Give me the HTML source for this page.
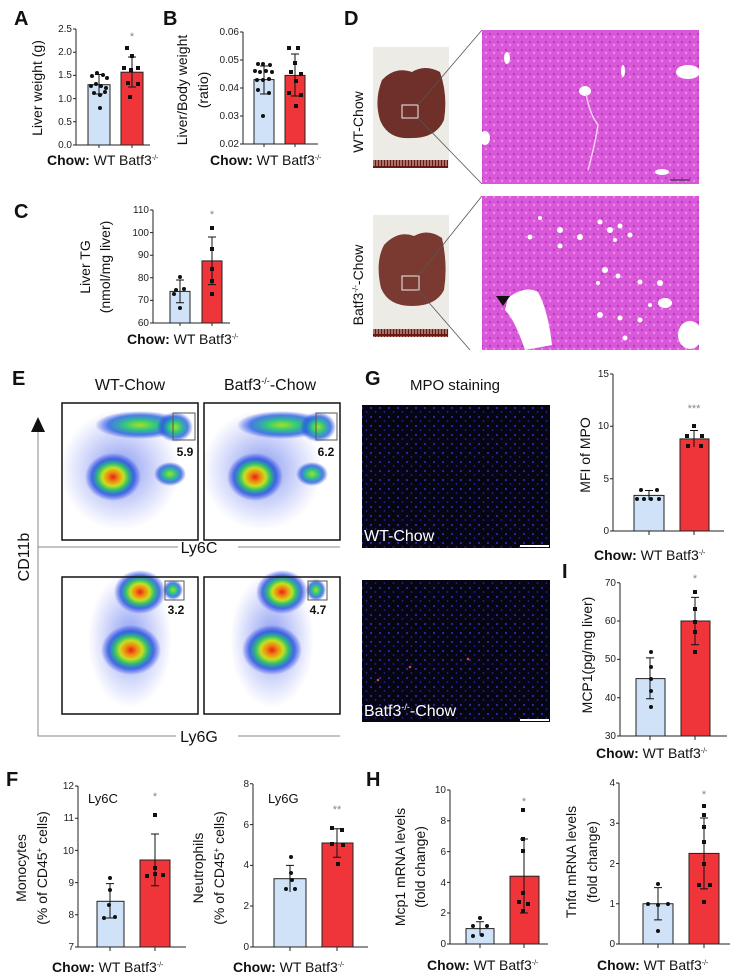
<!DOCTYPE html>
<html><head><meta charset="utf-8"><style>
html,body{margin:0;padding:0;background:#fff;}
svg{display:block;font-family:"Liberation Sans",Arial,sans-serif;}
.t{font-size:10px;fill:#222}
.ax{stroke:#222;stroke-width:1;fill:none}
.wt{fill:#cfe2f7;stroke:#222;stroke-width:1}
.ko{fill:#f0353a;stroke:#222;stroke-width:1}
.er{stroke:#111;stroke-width:1;fill:none}
.lab{font-size:20px;font-weight:bold;fill:#111}
.yl{font-size:14px;fill:#111}
.xl{font-size:14px;fill:#111}
.st{font-size:11px;fill:#888}
</style></head><body>
<svg width="739" height="977" viewBox="0 0 739 977" xmlns="http://www.w3.org/2000/svg">
<defs>
<radialGradient id="heat">
<stop offset="0" stop-color="#e8201a"/>
<stop offset="0.2" stop-color="#f08a10"/>
<stop offset="0.38" stop-color="#c8e020"/>
<stop offset="0.55" stop-color="#30c070"/>
<stop offset="0.75" stop-color="#2050e0" stop-opacity="0.8"/>
<stop offset="1" stop-color="#2030e0" stop-opacity="0"/>
</radialGradient>
<radialGradient id="green">
<stop offset="0" stop-color="#a8e020"/>
<stop offset="0.35" stop-color="#30c880"/>
<stop offset="0.7" stop-color="#2060e0" stop-opacity="0.8"/>
<stop offset="1" stop-color="#2030e0" stop-opacity="0"/>
</radialGradient>
<radialGradient id="haze">
<stop offset="0" stop-color="#4060e8" stop-opacity="0.65"/>
<stop offset="1" stop-color="#6070f0" stop-opacity="0"/>
</radialGradient>
<pattern id="nuc" width="9" height="9" patternUnits="userSpaceOnUse">
<rect width="9" height="9" fill="#050514"/>
<circle cx="2" cy="3" r="1.1" fill="#2a2aa8"/>
<circle cx="6.5" cy="7" r="0.9" fill="#24249a"/>
</pattern>
<pattern id="he" width="8" height="8" patternUnits="userSpaceOnUse">
<rect width="8" height="8" fill="#d957d8"/>
<circle cx="2" cy="2" r="1" fill="#9a3ab8"/>
<circle cx="6" cy="5" r="1.2" fill="#e98ae6"/>
</pattern>
<pattern id="ruler" width="3" height="8" patternUnits="userSpaceOnUse">
<rect width="3" height="8" fill="#6a1a14"/>
<rect x="1.5" width="1" height="6" fill="#e8c8c0"/>
</pattern>
</defs>

<!-- ===== Panel A ===== -->
<text x="14" y="25" class="lab">A</text>
<text transform="translate(42,88) rotate(-90)" class="yl" text-anchor="middle">Liver weight (g)</text>
<g class="t" text-anchor="end">
<text x="72" y="148">0.0</text><text x="72" y="125">0.5</text><text x="72" y="102">1.0</text><text x="72" y="78">1.5</text><text x="72" y="55">2.0</text><text x="72" y="32">2.5</text></g>
<path class="ax" d="M76,29V145H150M73,145H76M73,121.8H76M73,98.6H76M73,75.4H76M73,52.2H76M73,29H76M99,145v3M132,145v3"/>
<rect class="wt" x="88" y="84.7" width="22" height="60.3"/>
<rect class="ko" x="121" y="72.2" width="22" height="72.8"/>
<path class="er" d="M99,94V74.5M95,94h8M95,74.5h8M132,87V57M128,87h8M128,57h8"/>
<g fill="#111"><circle cx="92" cy="76" r="2"/><circle cx="97" cy="73" r="2"/><circle cx="103" cy="75" r="2"/><circle cx="107" cy="78" r="2"/><circle cx="91" cy="86" r="2"/><circle cx="96" cy="84" r="2"/><circle cx="101" cy="86" r="2"/><circle cx="106" cy="88" r="2"/><circle cx="94" cy="93" r="2"/><circle cx="100" cy="95" r="2"/><circle cx="105" cy="92" r="2"/><circle cx="100" cy="108" r="2"/>
<rect x="125" y="46" width="4" height="4"/><rect x="130" y="54" width="4" height="4"/><rect x="122" y="66" width="4" height="4"/><rect x="129" y="68" width="4" height="4"/><rect x="136" y="66" width="4" height="4"/><rect x="126" y="81" width="4" height="4"/><rect x="136" y="82" width="4" height="4"/><rect x="128" y="95" width="4" height="4"/></g>
<text x="132" y="40" class="st" text-anchor="middle">*</text>
<text x="47" y="165" class="xl"><tspan font-weight="bold">Chow:</tspan> WT  Batf3<tspan dy="-5" font-size="7">-/-</tspan></text>

<!-- ===== Panel B ===== -->
<text x="163" y="25" class="lab">B</text>
<text transform="translate(187,90) rotate(-90)" class="yl" text-anchor="middle">Liver/Body weight</text>
<text transform="translate(208,90) rotate(-90)" class="yl" text-anchor="middle">(ratio)</text>
<g class="t" text-anchor="end">
<text x="239" y="147">0.02</text><text x="239" y="119">0.03</text><text x="239" y="91">0.04</text><text x="239" y="63">0.05</text><text x="239" y="35">0.06</text></g>
<path class="ax" d="M243,32V144H318M240,144H243M240,116H243M240,88H243M240,60H243M240,32H243M264,144v3M295,144v3"/>
<rect class="wt" x="254" y="79.6" width="20" height="64.4"/>
<rect class="ko" x="285" y="75.4" width="20" height="68.6"/>
<path class="er" d="M264,94V66M260,94h8M260,66h8M295,96V54M291,96h8M291,54h8"/>
<g fill="#111"><circle cx="258" cy="64" r="2"/><circle cx="263" cy="64" r="2"/><circle cx="270" cy="65" r="2"/><circle cx="255" cy="71" r="2"/><circle cx="260" cy="72" r="2"/><circle cx="266" cy="71" r="2"/><circle cx="272" cy="72" r="2"/><circle cx="257" cy="80" r="2"/><circle cx="263" cy="80" r="2"/><circle cx="269" cy="79" r="2"/><circle cx="258" cy="90" r="2"/><circle cx="269" cy="93" r="2"/><circle cx="263" cy="116" r="2"/>
<rect x="287" y="46" width="4" height="4"/><rect x="296" y="46" width="4" height="4"/><rect x="293" y="61" width="4" height="4"/><rect x="289" y="70" width="4" height="4"/><rect x="299" y="72" width="4" height="4"/><rect x="294" y="79" width="4" height="4"/><rect x="287" y="91" width="4" height="4"/><rect x="299" y="93" width="4" height="4"/><rect x="294" y="104" width="4" height="4"/></g>
<text x="210" y="165" class="xl"><tspan font-weight="bold">Chow:</tspan> WT  Batf3<tspan dy="-5" font-size="7">-/-</tspan></text>

<!-- ===== Panel C ===== -->
<text x="14" y="218" class="lab">C</text>
<text transform="translate(90,267) rotate(-90)" class="yl" text-anchor="middle">Liver TG</text>
<text transform="translate(110,267) rotate(-90)" class="yl" text-anchor="middle">(nmol/mg liver)</text>
<g class="t" text-anchor="end">
<text x="149" y="326">60</text><text x="149" y="303">70</text><text x="149" y="281">80</text><text x="149" y="258">90</text><text x="149" y="236">100</text><text x="149" y="213">110</text></g>
<path class="ax" d="M153,210V323H230M150,323H153M150,300.4H153M150,277.8H153M150,255.2H153M150,232.6H153M150,210H153M180,323v3M212,323v3"/>
<rect class="wt" x="170" y="291.4" width="20" height="31.6"/>
<rect class="ko" x="202" y="260.9" width="20" height="62.1"/>
<path class="er" d="M180,302.7V280M176,302.7h8M176,280h8M212,284.6V237M208,284.6h8M208,237h8"/>
<g fill="#111"><circle cx="180" cy="277" r="2"/><circle cx="176" cy="290" r="2"/><circle cx="184" cy="289" r="2"/><circle cx="174" cy="294" r="2"/><circle cx="180" cy="308" r="2"/>
<rect x="210" y="226" width="4" height="4"/><rect x="210" y="247" width="4" height="4"/><rect x="210" y="267" width="4" height="4"/><rect x="210" y="279" width="4" height="4"/><rect x="210" y="292" width="4" height="4"/></g>
<text x="212" y="218" class="st" text-anchor="middle">*</text>
<text x="127" y="344" class="xl"><tspan font-weight="bold">Chow:</tspan> WT  Batf3<tspan dy="-5" font-size="7">-/-</tspan></text>

<!-- ===== Panel D ===== -->
<text x="344" y="25" class="lab">D</text>
<text transform="translate(363,122) rotate(-90)" font-size="14" text-anchor="middle" fill="#111">WT-Chow</text>
<text transform="translate(363,285) rotate(-90)" font-size="14" text-anchor="middle" fill="#111">Batf3<tspan dy="-5" font-size="8">-/-</tspan><tspan dy="5">-Chow</tspan></text>
<rect x="373" y="47" width="76" height="121" fill="#ecebe6"/>
<path d="M382,80 Q395,66 412,72 Q425,64 440,72 Q448,95 444,120 Q436,138 412,138 Q388,140 380,120 Q374,100 382,80Z" fill="#6e3028"/>
<rect x="402" y="105" width="16" height="13" fill="none" stroke="#eee" stroke-width="1"/>
<rect x="373" y="160" width="75" height="8" fill="url(#ruler)"/>
<path d="M418,105 L482,30 M418,118 L482,184" stroke="#555" stroke-width="0.8"/>
<rect x="482" y="30" width="217" height="154" fill="url(#he)"/>
<g fill="#fff"><ellipse cx="507" cy="58" rx="3" ry="6"/><ellipse cx="585" cy="91" rx="6" ry="5"/><ellipse cx="688" cy="72" rx="12" ry="7"/><ellipse cx="485" cy="138" rx="5" ry="7"/><ellipse cx="662" cy="172" rx="7" ry="3"/><ellipse cx="623" cy="71" rx="2" ry="6"/></g>
<path d="M586,94 Q590,115 598,125 Q595,145 588,170" stroke="#f5d0f0" stroke-width="1.5" fill="none"/>
<path d="M670,180h20" stroke="#222" stroke-width="1"/>
<rect x="373" y="215" width="76" height="122" fill="#ecebe6"/>
<path d="M384,245 Q398,230 414,236 Q428,228 442,238 Q448,265 444,290 Q436,306 412,306 Q388,306 381,288 Q375,262 384,245Z" fill="#7a3a32"/>
<rect x="402" y="276" width="17" height="14" fill="none" stroke="#eee" stroke-width="1"/>
<rect x="373" y="329" width="75" height="8" fill="url(#ruler)"/>
<path d="M418,276 L482,196 M418,290 L470,350" stroke="#555" stroke-width="0.8"/>
<rect x="482" y="196" width="217" height="154" fill="url(#he)"/>
<g fill="#fff"><path d="M508,298 Q525,285 538,292 Q548,310 552,345 L525,350 Q515,320 505,310Z"/><ellipse cx="690" cy="335" rx="12" ry="14"/><ellipse cx="665" cy="303" rx="7" ry="5"/>
<circle cx="560" cy="230" r="3"/><circle cx="580" cy="237" r="3"/><circle cx="560" cy="246" r="2.5"/><circle cx="600" cy="222" r="2.5"/><circle cx="610" cy="230" r="3"/><circle cx="620" cy="226" r="2.5"/><circle cx="615" cy="240" r="2"/><circle cx="630" cy="235" r="2.5"/><circle cx="605" cy="270" r="3"/><circle cx="618" cy="276" r="2.5"/><circle cx="598" cy="283" r="2"/><circle cx="640" cy="282" r="2.5"/><circle cx="660" cy="283" r="3"/><circle cx="600" cy="315" r="3"/><circle cx="620" cy="318" r="2.5"/><circle cx="640" cy="320" r="2.5"/><circle cx="650" cy="305" r="2"/><circle cx="540" cy="218" r="2"/><circle cx="530" cy="237" r="2.5"/><circle cx="625" cy="338" r="2.5"/></g>
<path d="M496,296 L510,296 L503,306Z" fill="#111"/>

<!-- ===== Panel E ===== -->
<text x="12" y="385" class="lab">E</text>
<text x="130" y="390" font-size="16" text-anchor="middle" fill="#111">WT-Chow</text>
<text x="270" y="390" font-size="16" text-anchor="middle" fill="#111">Batf3<tspan dy="-6" font-size="9">-/-</tspan><tspan dy="6">-Chow</tspan></text>
<path d="M38,428V736H198M38,547H198" stroke="#888" stroke-width="1" fill="none"/>
<path d="M238,547H340M238,736H340" stroke="#888" stroke-width="1"/>
<path d="M31,432L38,417L45,432Z" fill="#111"/>
<text transform="translate(29,557) rotate(-90)" font-size="16" text-anchor="middle" fill="#111">CD11b</text>
<rect x="178" y="537" width="42" height="20" fill="#fff"/>
<text x="199" y="553" font-size="16" text-anchor="middle" fill="#111">Ly6C</text>
<rect x="176" y="726" width="46" height="20" fill="#fff"/>
<text x="199" y="742" font-size="16" text-anchor="middle" fill="#111">Ly6G</text>
<g>
<rect x="62" y="403" width="136" height="137" fill="#fff"/>
<ellipse cx="120" cy="470" rx="60" ry="60" fill="url(#haze)"/>
<ellipse cx="140" cy="425" rx="45" ry="14" fill="url(#green)"/>
<ellipse cx="175" cy="427" rx="18" ry="15" fill="url(#green)"/>
<ellipse cx="113" cy="477" rx="28" ry="24" fill="url(#heat)"/>
<ellipse cx="170" cy="474" rx="16" ry="12" fill="url(#green)"/>
<rect x="62" y="403" width="136" height="137" fill="none" stroke="#111" stroke-width="1.5"/>
<rect x="173" y="413" width="22" height="27" fill="none" stroke="#555" stroke-width="1"/>
<text x="185" y="456" font-size="12" font-weight="bold" text-anchor="middle" fill="#111">5.9</text>
</g>
<g>
<rect x="204" y="403" width="136" height="137" fill="#fff"/>
<ellipse cx="262" cy="470" rx="60" ry="60" fill="url(#haze)"/>
<ellipse cx="282" cy="425" rx="45" ry="14" fill="url(#green)"/>
<ellipse cx="318" cy="427" rx="18" ry="15" fill="url(#green)"/>
<ellipse cx="255" cy="477" rx="28" ry="24" fill="url(#heat)"/>
<ellipse cx="312" cy="474" rx="16" ry="12" fill="url(#green)"/>
<rect x="204" y="403" width="136" height="137" fill="none" stroke="#111" stroke-width="1.5"/>
<rect x="316" y="413" width="21" height="27" fill="none" stroke="#555" stroke-width="1"/>
<text x="326" y="456" font-size="12" font-weight="bold" text-anchor="middle" fill="#111">6.2</text>
</g>
<g>
<rect x="62" y="577" width="136" height="137" fill="#fff"/>
<ellipse cx="130" cy="640" rx="42" ry="68" fill="url(#haze)"/>
<ellipse cx="140" cy="592" rx="26" ry="22" fill="url(#heat)"/>
<ellipse cx="131" cy="650" rx="30" ry="25" fill="url(#heat)"/>
<ellipse cx="173" cy="590" rx="10" ry="10" fill="url(#green)"/>
<rect x="62" y="577" width="136" height="137" fill="none" stroke="#111" stroke-width="1.5"/>
<rect x="165" y="581" width="19" height="19" fill="none" stroke="#555" stroke-width="1"/>
<text x="176" y="614" font-size="12" font-weight="bold" text-anchor="middle" fill="#111">3.2</text>
</g>
<g>
<rect x="204" y="577" width="136" height="137" fill="#fff"/>
<ellipse cx="272" cy="640" rx="42" ry="68" fill="url(#haze)"/>
<ellipse cx="282" cy="592" rx="26" ry="22" fill="url(#heat)"/>
<ellipse cx="272" cy="650" rx="30" ry="25" fill="url(#heat)"/>
<ellipse cx="316" cy="590" rx="10" ry="11" fill="url(#green)"/>
<rect x="204" y="577" width="136" height="137" fill="none" stroke="#111" stroke-width="1.5"/>
<rect x="308" y="581" width="19" height="19" fill="none" stroke="#555" stroke-width="1"/>
<text x="318" y="614" font-size="12" font-weight="bold" text-anchor="middle" fill="#111">4.7</text>
</g>

<!-- ===== Panel G ===== -->
<text x="365" y="385" class="lab">G</text>
<text x="455" y="390" font-size="15" text-anchor="middle" fill="#111">MPO staining</text>
<rect x="362" y="405" width="188" height="143" fill="url(#nuc)"/>
<text x="364" y="541" font-size="16" fill="#fff">WT-Chow</text>
<rect x="520" y="545" width="29" height="2" fill="#fff"/>
<rect x="362" y="580" width="188" height="142" fill="url(#nuc)"/>
<circle cx="410" cy="667" r="1.3" fill="#e04050"/><circle cx="378" cy="680" r="1.3" fill="#e04050"/><circle cx="468" cy="659" r="1.3" fill="#e04050"/>
<text x="364" y="716" font-size="16" fill="#fff">Batf3<tspan dy="-6" font-size="9">-/-</tspan><tspan dy="6">-Chow</tspan></text>
<rect x="520" y="719" width="29" height="2" fill="#fff"/>

<text transform="translate(590,455) rotate(-90)" class="yl" text-anchor="middle">MFI of MPO</text>
<g class="t" text-anchor="end">
<text x="609" y="534">0</text><text x="609" y="482">5</text><text x="609" y="429">10</text><text x="609" y="377">15</text></g>
<path class="ax" d="M613,374V531H724M610,531H613M610,478.7H613M610,426.3H613M610,374H613M649,531v4M694,531v4"/>
<rect class="wt" x="634" y="495.4" width="30" height="35.6"/>
<rect class="ko" x="680" y="438.9" width="29" height="92.1"/>
<path class="er" d="M649,500V490.5M645,490.5h8M694,447V430.5M690,430.5h8"/>
<g fill="#111"><circle cx="641" cy="490" r="2"/><circle cx="657" cy="490" r="2"/><circle cx="637" cy="499" r="2"/><circle cx="644" cy="499" r="2"/><circle cx="651" cy="499" r="2"/><circle cx="659" cy="499" r="2"/>
<rect x="692" y="424" width="4" height="4"/><rect x="685" y="434" width="4" height="4"/><rect x="700" y="434" width="4" height="4"/><rect x="686" y="444" width="4" height="4"/><rect x="699" y="444" width="4" height="4"/></g>
<text x="694" y="412" class="st" text-anchor="middle">***</text>
<text x="594" y="560" class="xl"><tspan font-weight="bold">Chow:</tspan> WT    Batf3<tspan dy="-5" font-size="7">-/-</tspan></text>

<!-- ===== Panel I ===== -->
<text x="562" y="578" class="lab">I</text>
<text transform="translate(592,655) rotate(-90)" class="yl" text-anchor="middle">MCP1(pg/mg liver)</text>
<g class="t" text-anchor="end">
<text x="616" y="739">30</text><text x="616" y="701">40</text><text x="616" y="662">50</text><text x="616" y="624">60</text><text x="616" y="586">70</text></g>
<path class="ax" d="M620,583V736H727M617,736H620M617,697.7H620M617,659.4H620M617,621H620M617,582.8H620M650,736v4M695,736v4"/>
<rect class="wt" x="636" y="678.6" width="29" height="57.4"/>
<rect class="ko" x="681" y="621" width="29" height="115"/>
<path class="er" d="M650,698.8V657.9M646,698.8h8M646,657.9h8M695,644.8V597.4M691,644.8h8M691,597.4h8"/>
<g fill="#111"><circle cx="651" cy="652" r="2"/><circle cx="651" cy="667" r="2"/><circle cx="651" cy="679" r="2"/><circle cx="651" cy="691" r="2"/><circle cx="651" cy="707" r="2"/>
<rect x="693" y="590" width="4" height="4"/><rect x="693" y="607" width="4" height="4"/><rect x="693" y="620" width="4" height="4"/><rect x="693" y="630" width="4" height="4"/><rect x="693" y="650" width="4" height="4"/></g>
<text x="695" y="582" class="st" text-anchor="middle">*</text>
<text x="596" y="758" class="xl"><tspan font-weight="bold">Chow:</tspan> WT    Batf3<tspan dy="-5" font-size="7">-/-</tspan></text>

<!-- ===== Panel F ===== -->
<text x="6" y="786" class="lab">F</text>
<text transform="translate(26,868) rotate(-90)" class="yl" text-anchor="middle">Monocytes</text>
<text transform="translate(47,868) rotate(-90)" class="yl" text-anchor="middle">(% of CD45<tspan dy="-5" font-size="8">+</tspan><tspan dy="5"> cells)</tspan></text>
<g class="t" text-anchor="end" font-size="11">
<text x="74" y="950">7</text><text x="74" y="918">8</text><text x="74" y="886">9</text><text x="74" y="854">10</text><text x="74" y="821">11</text><text x="74" y="789">12</text></g>
<path class="ax" d="M78,786V947H186M75,947H78M75,914.8H78M75,882.6H78M75,850.4H78M75,818.2H78M75,786H78M110,947v4M155,947v4"/>
<rect class="wt" x="97" y="901.3" width="27" height="45.7"/>
<rect class="ko" x="140" y="860" width="30" height="87"/>
<path class="er" d="M110,918V883.6M106,918h8M106,883.6h8M155,885.8V834M151,885.8h8M151,834h8"/>
<g fill="#111"><circle cx="110" cy="878" r="2"/><circle cx="110" cy="890" r="2"/><circle cx="109" cy="905" r="2"/><circle cx="104" cy="918" r="2"/><circle cx="115" cy="917" r="2"/>
<rect x="153" y="813" width="4" height="4"/><rect x="145" y="874" width="4" height="4"/><rect x="153" y="872" width="4" height="4"/><rect x="161" y="873" width="4" height="4"/><rect x="153" y="866" width="4" height="4"/></g>
<text x="155" y="800" class="st" text-anchor="middle">*</text>
<text x="88" y="803" font-size="13" fill="#111">Ly6C</text>
<text x="52" y="972" class="xl"><tspan font-weight="bold">Chow:</tspan> WT    Batf3<tspan dy="-5" font-size="7">-/-</tspan></text>

<text transform="translate(203,868) rotate(-90)" class="yl" text-anchor="middle">Neutrophils</text>
<text transform="translate(224,868) rotate(-90)" class="yl" text-anchor="middle">(% of CD45<tspan dy="-5" font-size="8">+</tspan><tspan dy="5"> cells)</tspan></text>
<g class="t" text-anchor="end" font-size="11">
<text x="249" y="950">0</text><text x="249" y="909">2</text><text x="249" y="868">4</text><text x="249" y="828">6</text><text x="249" y="787">8</text></g>
<path class="ax" d="M253,784V947H368M250,947H253M250,906H253M250,865.4H253M250,824.6H253M250,783.8H253M290,947v4M337,947v4"/>
<rect class="wt" x="274" y="878.7" width="32" height="68.3"/>
<rect class="ko" x="322" y="843" width="31" height="104"/>
<path class="er" d="M290,892V865.4M286,865.4h8M337,857.2V828.7M333,857.2h8M333,828.7h8"/>
<g fill="#111"><circle cx="291" cy="857" r="2"/><circle cx="291" cy="873" r="2"/><circle cx="292" cy="880" r="2"/><circle cx="286" cy="889" r="2"/><circle cx="295" cy="889" r="2"/>
<rect x="330" y="826" width="4" height="4"/><rect x="340" y="828" width="4" height="4"/><rect x="330" y="842" width="4" height="4"/><rect x="341" y="843" width="4" height="4"/><rect x="336" y="862" width="4" height="4"/></g>
<text x="337" y="813" class="st" text-anchor="middle">**</text>
<text x="268" y="803" font-size="13" fill="#111">Ly6G</text>
<text x="233" y="972" class="xl"><tspan font-weight="bold">Chow:</tspan> WT    Batf3<tspan dy="-5" font-size="7">-/-</tspan></text>

<!-- ===== Panel H ===== -->
<text x="366" y="786" class="lab">H</text>
<text transform="translate(405,867) rotate(-90)" class="yl" text-anchor="middle">Mcp1 mRNA levels</text>
<text transform="translate(425,867) rotate(-90)" class="yl" text-anchor="middle">(fold change)</text>
<g class="t" text-anchor="end" font-size="11">
<text x="446" y="947">0</text><text x="446" y="916">2</text><text x="446" y="886">4</text><text x="446" y="855">6</text><text x="446" y="824">8</text><text x="446" y="793">10</text></g>
<path class="ax" d="M450,790V944H548M447,944H450M447,913H450M447,882.4H450M447,851.6H450M447,820.8H450M447,790H450M480,944v4M524,944v4"/>
<rect class="wt" x="466" y="928.6" width="28" height="15.4"/>
<rect class="ko" x="510" y="876.2" width="29" height="67.8"/>
<path class="er" d="M480,935.5V921.7M476,921.7h8M524,913V839M520,913h8M520,839h8"/>
<g fill="#111"><circle cx="480" cy="918" r="2"/><circle cx="473" cy="926" r="2"/><circle cx="487" cy="926" r="2"/><circle cx="473" cy="936" r="2"/><circle cx="482" cy="935" r="2"/>
<rect x="521" y="808" width="4" height="4"/><rect x="521" y="837" width="4" height="4"/><rect x="521" y="849" width="4" height="4"/><rect x="521" y="891" width="4" height="4"/><rect x="517" y="900" width="4" height="4"/><rect x="526" y="902" width="4" height="4"/><rect x="521" y="909" width="4" height="4"/></g>
<text x="524" y="805" class="st" text-anchor="middle">*</text>
<text x="427" y="970" class="xl"><tspan font-weight="bold">Chow:</tspan> WT    Batf3<tspan dy="-5" font-size="7">-/-</tspan></text>

<text transform="translate(576,862) rotate(-90)" class="yl" text-anchor="middle">Tnfα mRNA levels</text>
<text transform="translate(597,862) rotate(-90)" class="yl" text-anchor="middle">(fold change)</text>
<g class="t" text-anchor="end" font-size="11">
<text x="615" y="947">0</text><text x="615" y="907">1</text><text x="615" y="867">2</text><text x="615" y="826">3</text><text x="615" y="786">4</text></g>
<path class="ax" d="M619,783V944H730M616,944H619M616,903.75H619M616,863.5H619M616,823.25H619M616,783H619M658,944v4M704,944v4"/>
<rect class="wt" x="643" y="903.75" width="30" height="40.25"/>
<rect class="ko" x="689" y="853.4" width="30" height="90.6"/>
<path class="er" d="M658,919.9V887.6M654,919.9h8M654,887.6h8M704,888.9V818M700,888.9h8M700,818h8"/>
<g fill="#111"><circle cx="658" cy="884" r="2"/><circle cx="648" cy="904" r="2"/><circle cx="658" cy="905" r="2"/><circle cx="668" cy="904" r="2"/><circle cx="658" cy="931" r="2"/>
<rect x="702" y="804" width="4" height="4"/><rect x="702" y="813" width="4" height="4"/><rect x="702" y="825" width="4" height="4"/><rect x="702" y="840" width="4" height="4"/><rect x="702" y="862" width="4" height="4"/><rect x="697" y="883" width="4" height="4"/><rect x="708" y="883" width="4" height="4"/><rect x="702" y="900" width="4" height="4"/></g>
<text x="704" y="798" class="st" text-anchor="middle">*</text>
<text x="597" y="970" class="xl"><tspan font-weight="bold">Chow:</tspan> WT    Batf3<tspan dy="-5" font-size="7">-/-</tspan></text>
</svg>
</body></html>
